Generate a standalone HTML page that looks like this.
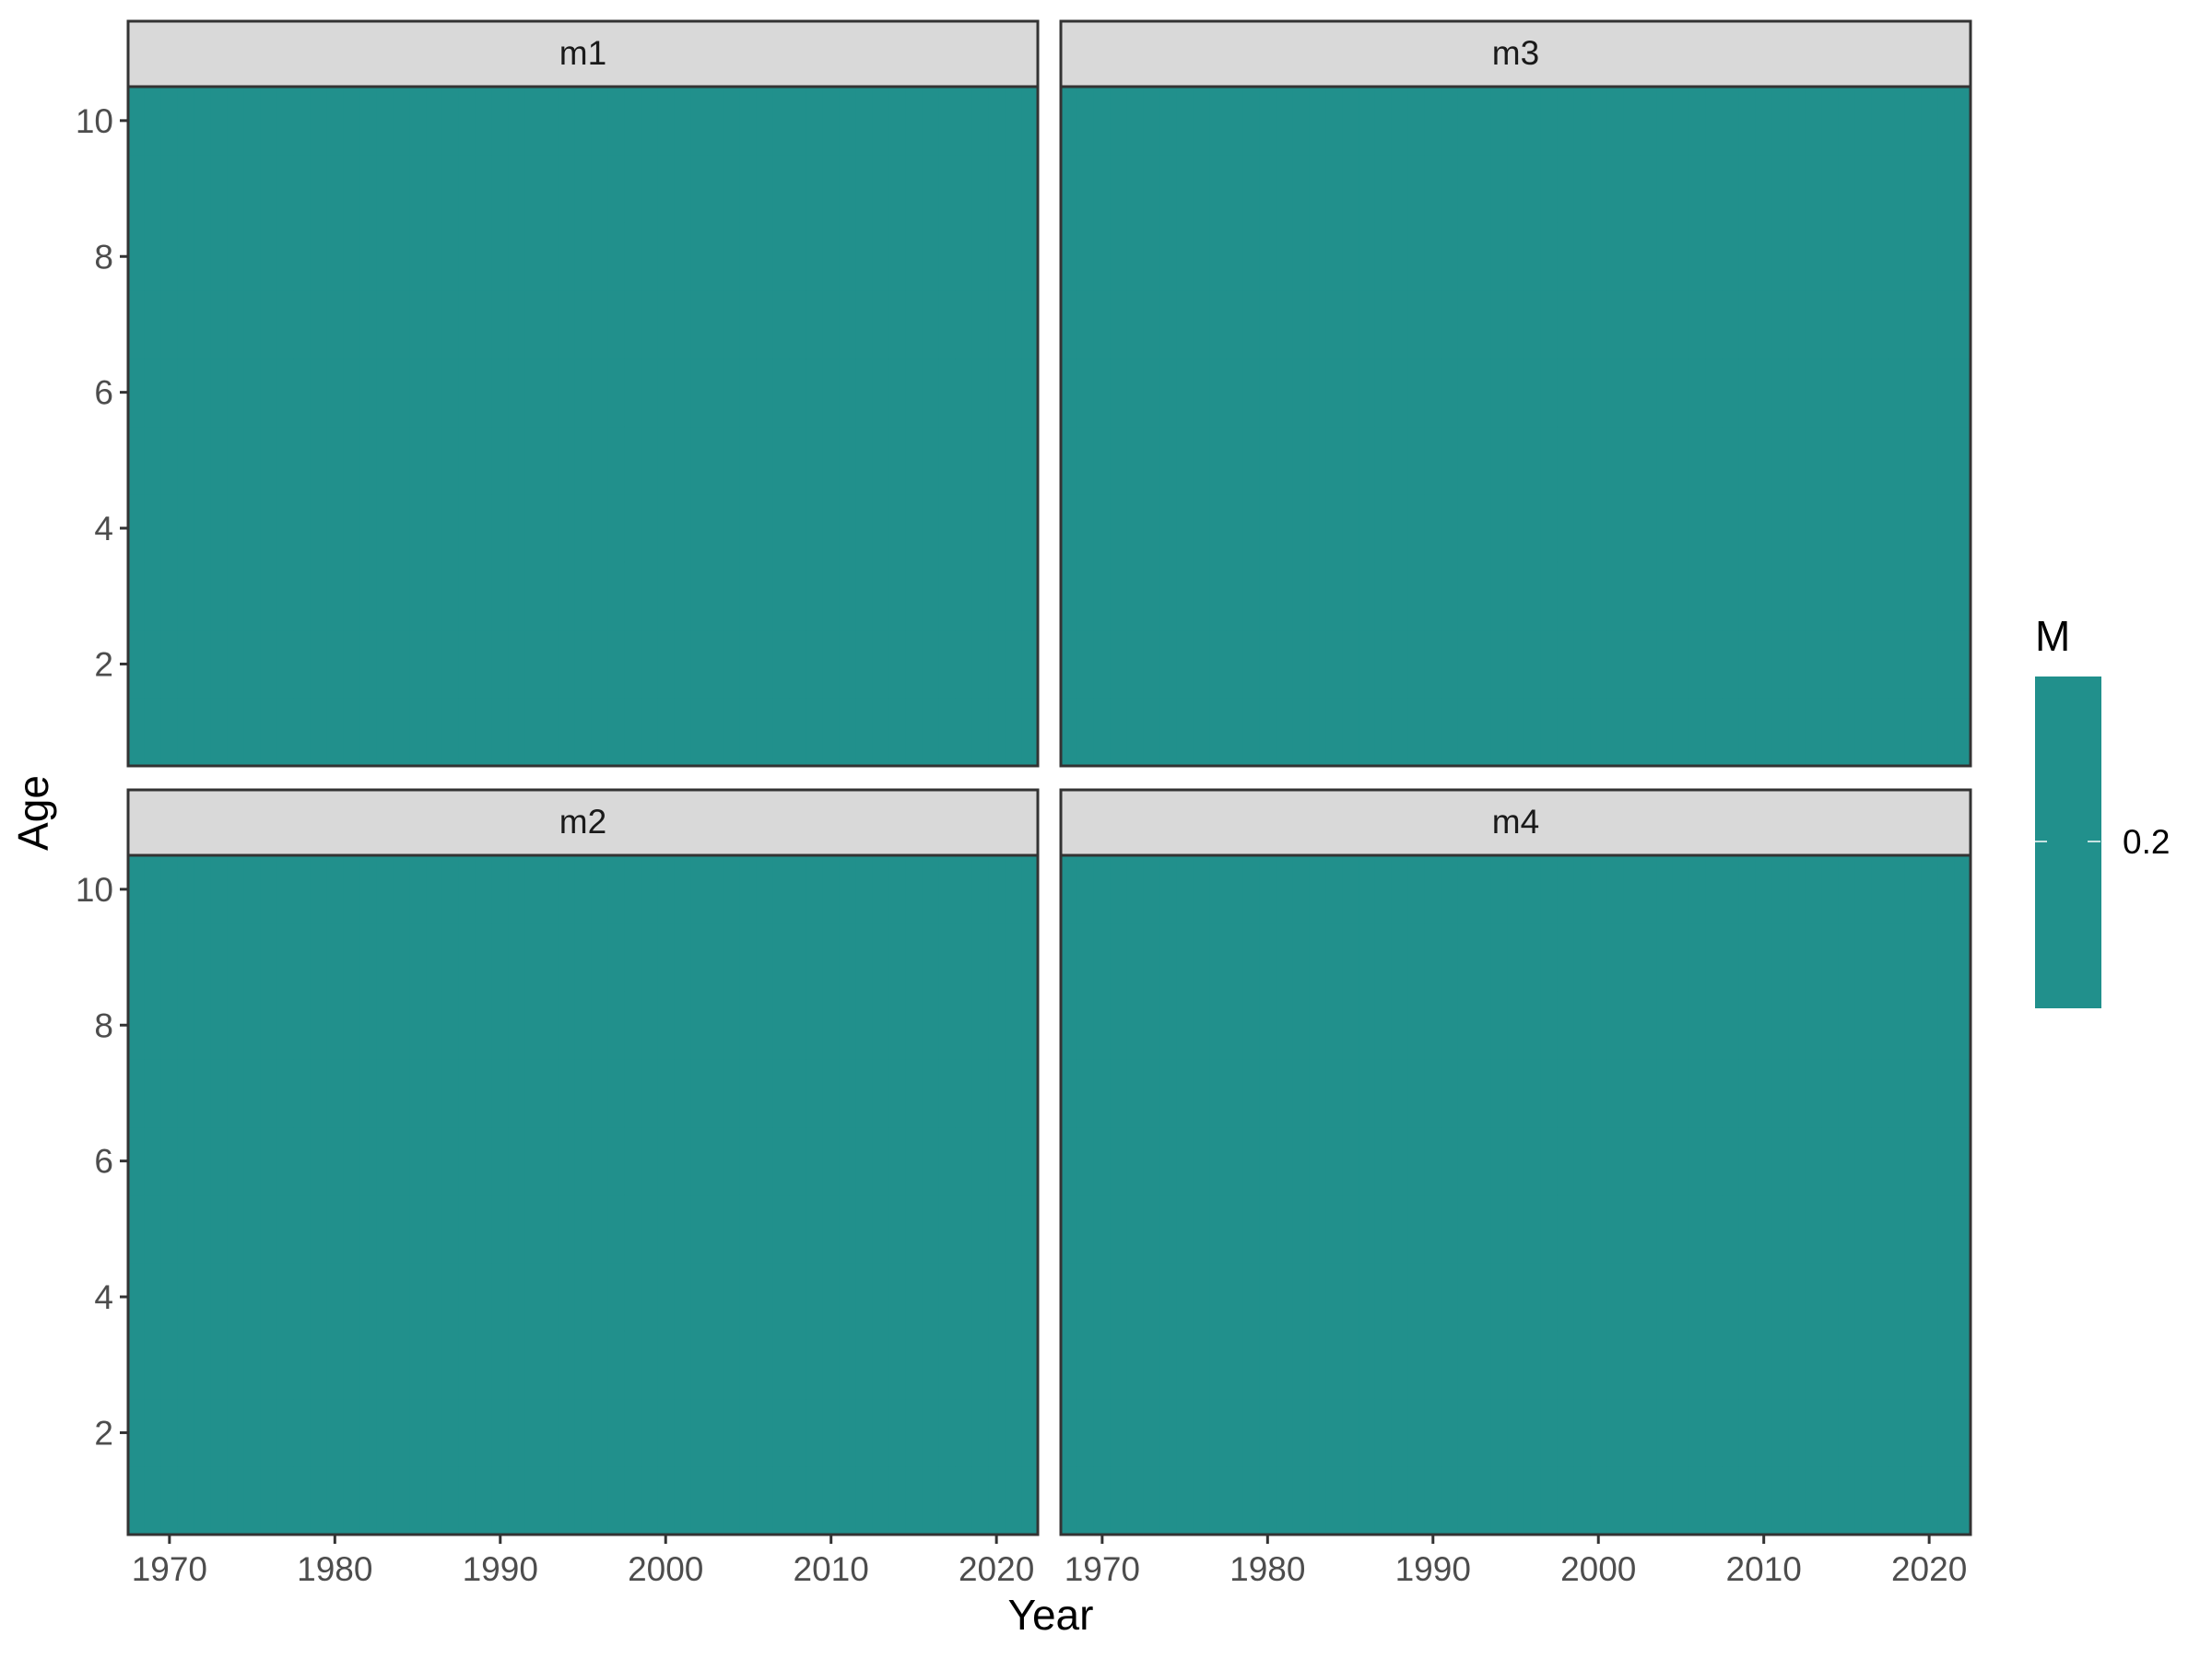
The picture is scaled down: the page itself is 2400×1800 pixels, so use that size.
<!DOCTYPE html>
<html><head><meta charset="utf-8"><style>
html,body{margin:0;padding:0;background:#fff}
svg{display:block}
text{font-family:"Liberation Sans",Arial,sans-serif}
</style></head><body>
<svg id="chart" width="2400" height="1800" viewBox="0 0 2400 1800" xmlns="http://www.w3.org/2000/svg">
<rect width="2400" height="1800" fill="#fff"/>
<g id="panels"></g>
<text x="52" y="882" font-size="46" fill="#000" text-anchor="middle" transform="rotate(-90 52 882)">Age</text>
<text x="1140" y="1768" font-size="46" fill="#000" text-anchor="middle">Year</text>
<g>
<text x="2208" y="706" font-size="46" fill="#000">M</text>
<rect x="2208" y="734" width="72" height="360" fill="#21908C"/>
<line x1="2208" y1="913" x2="2221" y2="913" stroke="#fff" stroke-width="1.5"/>
<line x1="2265" y1="913" x2="2279" y2="913" stroke="#fff" stroke-width="1.5"/>
<text x="2303" y="926" font-size="37" fill="#000">0.2</text>
</g>
</svg>
<script>
const models = ["m1","m3","m2","m4"];
const years = [];
for (let y = 1968; y <= 2022; y++) years.push(y);
const ages = [1,2,3,4,5,6,7,8,9,10];
const mValue = 0.2;
const xTicks = [1970,1980,1990,2000,2010,2020];
const yTicks = [2,4,6,8,10];

const NS = "http://www.w3.org/2000/svg";
const root = document.getElementById("panels");
const panelW = 987, bodyH = 737, stripH = 71;
const panelPos = [[139,23],[1151,23],[139,857],[1151,857]];
function mk(tag, attrs, parent){const e=document.createElementNS(NS,tag);for(const k in attrs)e.setAttribute(k,attrs[k]);parent.appendChild(e);return e;}
function colorFor(v){return "#21908C";}

models.forEach((m, i) => {
  const [px, py] = panelPos[i];
  const top = py + stripH;
  const xs = yr => px + (yr - 1967.5) / 55 * panelW;
  const ys = a => top + (10.5 - a) / 10 * bodyH;
  const g = mk("g", {}, root);
  
  
  const cells = mk("g", {}, g);
  
  
  years.forEach(yr => ages.forEach(a => {
    const x0 = xs(yr - 0.5), x1 = xs(yr + 0.5), y0 = ys(a + 0.5), y1 = ys(a - 0.5);
    const r = mk("rect", {x:x0, y:y0, width:x1-x0+0.6, height:y1-y0+0.6, fill:colorFor(mValue)}, cells);
    
    
  }));
  const st = mk("rect", {x:px, y:py, width:panelW, height:stripH, fill:"#D9D9D9", stroke:"#333", "stroke-width":3}, g);
  
  
  const stt = mk("text", {x:px+panelW/2, y:py+47, "font-size":37, fill:"#1A1A1A", "text-anchor":"middle"}, g);
  stt.textContent = m;
  
  
  const bd = mk("rect", {x:px, y:top, width:panelW, height:bodyH, fill:"none", stroke:"#333", "stroke-width":3}, g);
  
  
  if (px === 139) {
    yTicks.forEach(t => {
      const y = ys(t);
      const l = mk("line", {x1:px-9, x2:px, y1:y, y2:y, stroke:"#333", "stroke-width":3}, g);
      
      
      const tx = mk("text", {x:px-16, y:y+13, "font-size":37, fill:"#4D4D4D", "text-anchor":"end"}, g);
      tx.textContent = t;
      
      
    });
  }
  if (py === 857) {
    xTicks.forEach(t => {
      const x = xs(t);
      const l = mk("line", {x1:x, x2:x, y1:top+bodyH, y2:top+bodyH+10, stroke:"#333", "stroke-width":3}, g);
      
      
      const tx = mk("text", {x:x, y:1715, "font-size":37, fill:"#4D4D4D", "text-anchor":"middle"}, g);
      tx.textContent = t;
      
      
    });
  }
});
</script>
</body></html>
